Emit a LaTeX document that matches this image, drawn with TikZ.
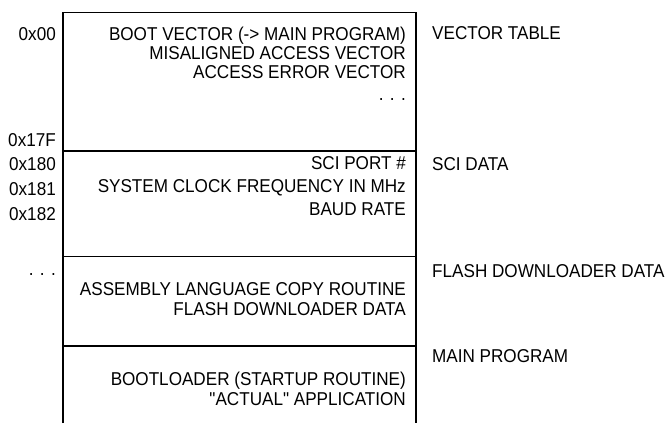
\documentclass[tikz,border=0pt]{standalone}
\usepackage{fontspec}
\setmainfont{Liberation Sans}[FakeStretch=0.92, Ligatures=TeXOff]
\tikzset{
    memfont/.style={inner sep=0pt, font=\fontsize{18.6}{19}\selectfont},
    addr/.style={memfont, anchor=base east},
    entry/.style={memfont, anchor=base east},
    region/.style={memfont, anchor=base west},
    memline/.style={line width=1.2pt},
}

\begin{document}
\begin{tikzpicture}[x=1pt, y=-1pt]
    \useasboundingbox (0,0) rectangle (669,423);

    % memory column
    \coordinate (bl) at (63,423);
    \coordinate (tl) at (63,12.5);
    \coordinate (tr) at (416,12.5);
    \coordinate (br) at (416,423);
    \draw[memline] (bl) -- (tl) -- (tr) -- (br);

    \coordinate (d1l) at (63,151);
    \coordinate (d1r) at (416,151);
    \coordinate (d2l) at (63,256.5);
    \coordinate (d2r) at (416,256.5);
    \coordinate (d3l) at (63,346);
    \coordinate (d3r) at (416,346);
    \draw[memline] (d1l) -- (d1r);
    \draw[memline] (d2l) -- (d2r);
    \draw[memline] (d3l) -- (d3r);

    % addresses
    \node[addr] (a00) at (56,40) {0x00};
    \node[addr] (a17f) at (56,146) {0x17F};
    \node[addr] (a180) at (56,170) {0x180};
    \node[addr] (a181) at (56,195) {0x181};
    \node[addr] (a182) at (56,220) {0x182};
    \node[addr] (adots) at (56,275) {. . .};

    % vector table
    \node[entry] (boot) at (406,40) {BOOT VECTOR (-> MAIN PROGRAM)};
    \node[entry] (misalign) at (406,59) {MISALIGNED ACCESS VECTOR};
    \node[entry] (accerr) at (406,78) {ACCESS ERROR VECTOR};
    \node[entry] (vdots) at (406,100) {. . .};

    % sci data
    \node[entry] (sciport) at (406,169.5) {SCI PORT \#};
    \node[entry] (sysclk) at (406,192.5) {SYSTEM CLOCK FREQUENCY IN MHz};
    \node[entry] (baud) at (406,215) {BAUD RATE};

    % flash downloader
    \node[entry] (asmcopy) at (406,295) {ASSEMBLY LANGUAGE COPY ROUTINE};
    \node[entry] (fdldata) at (406,315) {FLASH DOWNLOADER DATA};

    % main program
    \node[entry] (bootldr) at (406,385) {BOOTLOADER (STARTUP ROUTINE)};
    \node[entry] (actual) at (406,405) {"ACTUAL" APPLICATION};

    % regions
    \node[region] (rvec) at (432,39.5) {VECTOR TABLE};
    \node[region] (rsci) at (432,170.5) {SCI DATA};
    \node[region] (rflash) at (432,277) {FLASH DOWNLOADER DATA};
    \node[region] (rmain) at (432,362) {MAIN PROGRAM};
\end{tikzpicture}
\end{document}
